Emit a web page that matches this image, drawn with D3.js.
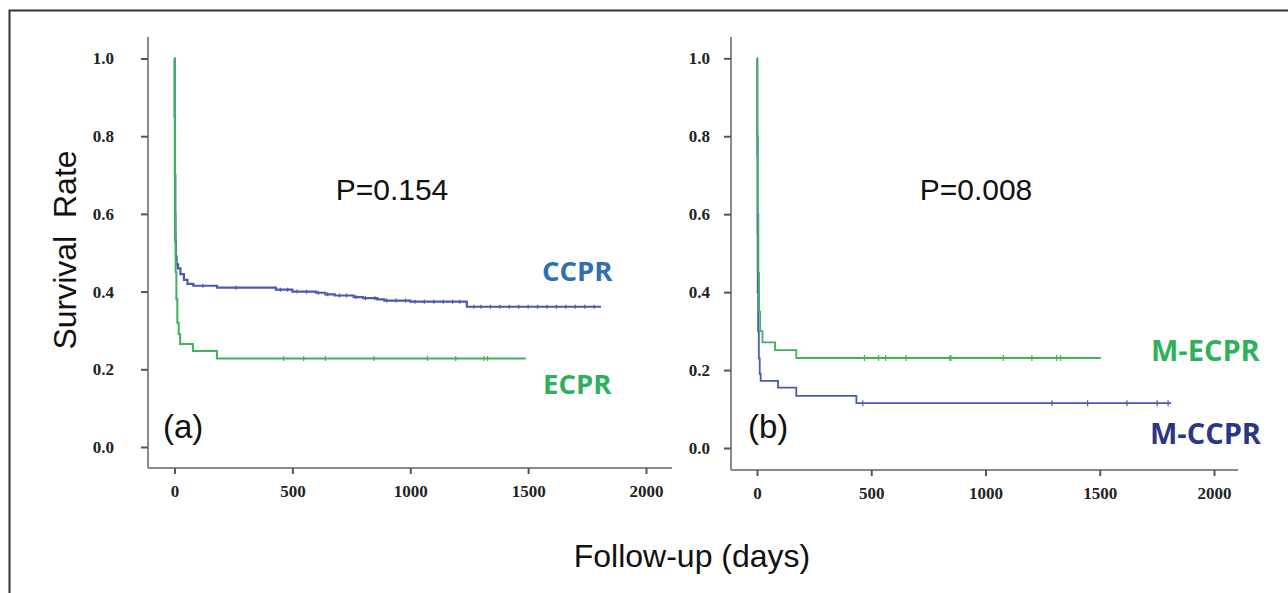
<!DOCTYPE html>
<html>
<head>
<meta charset="utf-8">
<script src="https://cdn.jsdelivr.net/npm/d3@7"></script>
<style>
  html, body { margin: 0; padding: 0; background: #fff; }
  svg { display: block; }
  .tick text { font-family: "Liberation Serif", "Times New Roman", serif; font-weight: bold; font-size: 17px; fill: #222; }
</style>
</head>
<body>
<div id="chart"></div>
<script>
// ── Data ──────────────────────────────────────────────────────────────────────

const yTicks = [0, 0.2, 0.4, 0.6, 0.8, 1.0];
const xTicks = [0, 500, 1000, 1500, 2000];

// Panel (a)
const ccprDays = [0, 1, 2, 3, 4, 6, 9, 15, 25, 40, 55, 80, 180, 430, 500, 600, 640, 680, 760, 800, 860, 890, 1000, 1240, 1809];
const ccprSurv = [1.0, 0.85, 0.70, 0.60, 0.53, 0.49, 0.47, 0.46, 0.445, 0.43, 0.42, 0.415, 0.41, 0.405, 0.40, 0.397, 0.393, 0.39, 0.386, 0.383, 0.38, 0.377, 0.374, 0.361, 0.361];
const ccprCensor = [120, 260, 450, 480, 520, 560, 610, 650, 700, 730, 770, 810, 850, 900, 940, 980, 1020, 1060, 1100, 1140, 1180, 1210, 1270, 1300, 1340, 1380, 1420, 1460, 1500, 1540, 1580, 1620, 1660, 1700, 1740, 1780];

const ecprDays = [0, 1, 2, 3, 5, 8, 12, 18, 24, 78, 180, 1490];
const ecprSurv = [1.0, 0.85, 0.70, 0.55, 0.45, 0.38, 0.32, 0.29, 0.265, 0.247, 0.228, 0.228];
const ecprCensor = [463, 548, 640, 846, 1073, 1193, 1313, 1328];

// Panel (b)
const mccprDays = [0, 1, 2, 3, 5, 8, 12, 16, 92, 172, 435, 1812];
const mccprSurv = [1.0, 0.75, 0.55, 0.40, 0.30, 0.23, 0.19, 0.172, 0.155, 0.134, 0.115, 0.115];
const mccprCensor = [463, 1291, 1447, 1619, 1751, 1799];

const mecprDays = [0, 2, 4, 6, 9, 14, 24, 79, 172, 1505];
const mecprSurv = [1.0, 0.80, 0.60, 0.45, 0.35, 0.30, 0.271, 0.251, 0.231, 0.231];
const mecprCensor = [470, 532, 563, 652, 844, 849, 1078, 1203, 1312, 1329];

// ── Styles ────────────────────────────────────────────────────────────────────

const W = 1288, H = 593;
const BLUE = "#4b59b3", GREEN = "#3fb25c", AXIS = "#8a8a8a";
const SANS = "Liberation Sans, Arial, sans-serif";
const LABEL_FONT = "'Open Sans', sans-serif";

const svg = d3.select("#chart").append("svg")
    .attr("width", W)
    .attr("height", H);

svg.append("rect").attr("width", W).attr("height", H).attr("fill", "#fff");

// frame (only left and top edges are visible in the crop)
svg.append("path")
    .attr("d", `M9.5,${H + 5} L9.5,10.5 L${W + 5},10.5`)
    .attr("fill", "none")
    .attr("stroke", "#333")
    .attr("stroke-width", 2);

// ── Panel builder ─────────────────────────────────────────────────────────────

function drawPanel(p) {
    const x = d3.scaleLinear().domain([0, 2000]).range([p.x0, p.x2000]);
    const y = d3.scaleLinear().domain([0, 1]).range([p.y0, p.y1]);
    const g = svg.append("g");

    // axis lines
    g.append("line").attr("x1", p.axisX).attr("x2", p.axisX).attr("y1", p.axisTop).attr("y2", p.axisY)
        .attr("stroke", AXIS).attr("stroke-width", 2);
    g.append("line").attr("x1", p.axisX).attr("x2", p.axisRight).attr("y1", p.axisY).attr("y2", p.axisY)
        .attr("stroke", AXIS).attr("stroke-width", 2);

    const yAxis = g.append("g").attr("transform", `translate(${p.axisX},0)`)
        .call(d3.axisLeft(y).tickValues(yTicks).tickFormat(d3.format(".1f")).tickSize(7).tickPadding(p.yPad));
    const xAxis = g.append("g").attr("transform", `translate(0,${p.axisY})`)
        .call(d3.axisBottom(x).tickValues(xTicks).tickFormat(d3.format("d")).tickSize(6).tickPadding(11));
    [yAxis, xAxis].forEach(a => {
        a.select(".domain").remove();
        a.selectAll(".tick line").attr("stroke", "#555").attr("stroke-width", 2);
    });

    const line = d3.line()
        .x(d => x(d[0]))
        .y(d => y(d[1]))
        .curve(d3.curveStepAfter);

    p.series.forEach(s => {
        const pts = s.days.map((d, i) => [d, s.surv[i]]);
        g.append("path")
            .datum(pts)
            .attr("d", line)
            .attr("fill", "none")
            .attr("stroke", s.color)
            .attr("stroke-width", s.width);

        // censor marks: small vertical ticks on the step curve
        const survAt = d => {
            let v = s.surv[0];
            s.days.forEach((dd, i) => { if (dd <= d) v = s.surv[i]; });
            return v;
        };
        g.selectAll(null)
            .data(s.censor)
            .enter()
            .append("line")
            .attr("x1", d => x(d)).attr("x2", d => x(d))
            .attr("y1", d => y(survAt(d)) - s.tick).attr("y2", d => y(survAt(d)) + s.tick)
            .attr("stroke", s.color)
            .attr("stroke-width", 1.2);
    });

    g.append("text")
        .attr("x", p.pX).attr("y", 200)
        .attr("text-anchor", "middle")
        .attr("font-family", SANS).attr("font-size", 30).attr("fill", "#111")
        .text(p.pText);

    g.append("text")
        .attr("x", p.tagX).attr("y", 438)
        .attr("font-family", SANS).attr("font-size", 33).attr("fill", "#111")
        .text(p.tag);

    p.labels.forEach(l => {
        g.append("text")
            .attr("x", l.x).attr("y", l.y)
            .attr("font-family", LABEL_FONT).attr("font-weight", "bold")
            .attr("font-size", l.size).attr("fill", l.color)
            .text(l.text);
    });
}

drawPanel({
    x0: 174.5, x2000: 646, y0: 447, y1: 58.5,
    axisX: 148, axisTop: 37, axisY: 468, axisRight: 672, yPad: 27,
    pX: 392, pText: "P=0.154", tagX: 163, tag: "(a)",
    series: [
        { days: ccprDays, surv: ccprSurv, censor: ccprCensor, color: BLUE, width: 2.2, tick: 2 },
        { days: ecprDays, surv: ecprSurv, censor: ecprCensor, color: GREEN, width: 2, tick: 2.5 }
    ],
    labels: [
        { text: "CCPR", x: 542, y: 281, size: 27.5, color: "#2f6fb6" },
        { text: "ECPR", x: 543, y: 394, size: 27.5, color: "#2fb05a" }
    ]
});

drawPanel({
    x0: 757, x2000: 1214, y0: 448, y1: 58.3,
    axisX: 731, axisTop: 37, axisY: 470, axisRight: 1238, yPad: 14,
    pX: 976, pText: "P=0.008", tagX: 748, tag: "(b)",
    series: [
        { days: mccprDays, surv: mccprSurv, censor: mccprCensor, color: BLUE, width: 1.8, tick: 3 },
        { days: mecprDays, surv: mecprSurv, censor: mecprCensor, color: GREEN, width: 1.8, tick: 3 }
    ],
    labels: [
        { text: "M-ECPR", x: 1151, y: 361, size: 29, color: "#2fb05a" },
        { text: "M-CCPR", x: 1150, y: 444, size: 29, color: "#2b3784" }
    ]
});

// ── Shared axis titles ────────────────────────────────────────────────────────

svg.append("text")
    .attr("transform", "translate(76,250) rotate(-90)")
    .attr("text-anchor", "middle")
    .attr("font-family", SANS).attr("font-size", 32).attr("fill", "#111")
    .attr("xml:space", "preserve")
    .style("white-space", "pre")
    .text("Survival  Rate");

svg.append("text")
    .attr("x", 692).attr("y", 567)
    .attr("text-anchor", "middle")
    .attr("font-family", SANS).attr("font-size", 32).attr("fill", "#111")
    .text("Follow-up (days)");
</script>
</body>
</html>
